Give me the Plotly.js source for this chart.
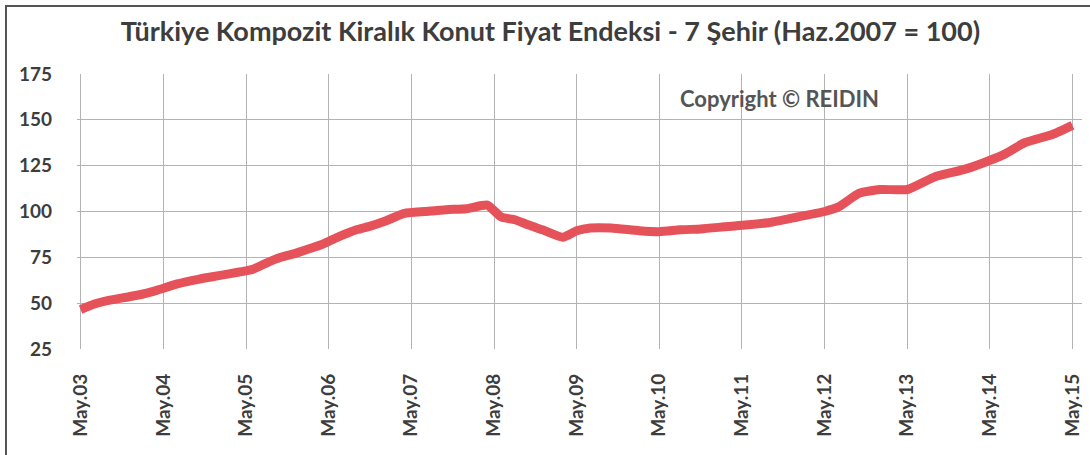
<!DOCTYPE html>
<html>
<head>
<meta charset="utf-8">
<script src="https://cdn.plot.ly/plotly-3.0.1.min.js"></script>
<style>
  html, body { margin: 0; padding: 0; background: #fff; }
  #wrap { position: absolute; left: 0; top: 0; width: 1090px; height: 455px; }
  #frame { position: absolute; left: 5px; top: 5px; width: 1085px; height: 450px;
           border-left: 2px solid #555; border-top: 2px solid #555; box-sizing: border-box; pointer-events: none; }
  #chart { position: absolute; left: 0; top: 0; width: 1090px; height: 455px; }
</style>
</head>
<body>
<div id="wrap">
  <div id="chart"></div>
  <div id="frame"></div>
</div>
<script>
const titleText = "Türkiye Kompozit Kiralık Konut Fiyat Endeksi - 7 Şehir (Haz.2007 = 100)";
const copyrightText = "Copyright © REIDIN";

const dates = [
  "2003-05-01","2003-07-01","2003-09-01","2003-12-01","2004-02-01","2004-04-01","2004-07-01","2004-10-01",
  "2005-01-01","2005-04-01","2005-06-01","2005-08-01","2005-10-01","2005-12-01","2006-02-01","2006-04-01",
  "2006-06-01","2006-09-01","2006-11-01","2007-01-01","2007-04-01","2007-07-01","2007-10-01","2008-01-01",
  "2008-04-01","2008-06-01","2008-08-01","2008-10-01","2008-12-01","2009-03-01","2009-05-01","2009-07-01",
  "2009-10-01","2010-02-01","2010-05-01","2010-08-01","2010-11-01","2011-02-01","2011-05-01","2011-09-01",
  "2012-01-01","2012-05-01","2012-07-01","2012-10-01","2013-01-01","2013-05-01","2013-09-01","2014-01-01",
  "2014-04-01","2014-07-01","2014-10-01","2015-02-01","2015-05-01"
];
const index = [
  46.5, 49.5, 51.5, 53.5, 55.0, 57.0, 60.5, 63.0,
  65.0, 67.0, 68.5, 72.0, 75.0, 77.0, 79.5, 82.0,
  85.5, 90.0, 92.0, 94.5, 99.0, 100.0, 101.0, 101.5,
  103.5, 97.0, 95.5, 92.6, 90.0, 86.0, 89.5, 91.0,
  91.0, 89.5, 89.0, 90.0, 90.5, 91.5, 92.5, 94.0,
  97.0, 100.0, 102.5, 110.0, 112.0, 112.0, 119.0, 122.7,
  126.5, 131.0, 137.5, 142.0, 147.0
];
const tickDates = ["2003-05-01","2004-05-01","2005-05-01","2006-05-01","2007-05-01","2008-05-01","2009-05-01",
  "2010-05-01","2011-05-01","2012-05-01","2013-05-01","2014-05-01","2015-05-01"];
const tickLabels = ["May.03","May.04","May.05","May.06","May.07","May.08","May.09",
  "May.10","May.11","May.12","May.13","May.14","May.15"];
const yTicks = [25, 50, 75, 100, 125, 150, 175];

const font = "Lato, 'Open Sans', 'DejaVu Sans', sans-serif";

Plotly.newPlot("chart", [{
  x: dates, y: index, type: "scatter", mode: "lines",
  line: { color: "#e5525a", width: 9, shape: "spline", smoothing: 0.5 },
  hoverinfo: "skip"
}], {
  width: 1090, height: 455,
  margin: { l: 77, r: 8, t: 74, b: 106 },
  paper_bgcolor: "#fff", plot_bgcolor: "#fff",
  showlegend: false,
  title: { text: "<b>" + titleText + "</b>", x: 0.505, xanchor: "center", y: 0.93, yanchor: "middle",
           font: { family: font, size: 27, color: "#3d3d3d" } },
  xaxis: {
    type: "date", range: ["2003-04-15", "2015-06-12"],
    tickvals: tickDates, ticktext: tickLabels.map(t => "<b>" + t + "</b>"),
    tickangle: -90, ticks: "", showgrid: true, gridcolor: "#b3b3b3", gridwidth: 1,
    zeroline: false, showline: false,
    tickfont: { family: font, size: 19, color: "#3d3d3d" }, ticklabelstandoff: 20
  },
  yaxis: {
    range: [25, 175], tickvals: yTicks, ticktext: yTicks.map(v => "<b>" + v + "</b>"),
    showgrid: true, gridcolor: "#b3b3b3", gridwidth: 1, zeroline: false, showline: false,
    tickfont: { family: font, size: 19, color: "#3d3d3d" }, ticks: "", ticklabelstandoff: 24
  },
  annotations: [{
    text: "<b>" + copyrightText + "</b>", xref: "paper", yref: "paper",
    x: 0.598, y: 0.91, xanchor: "left", yanchor: "middle", showarrow: false,
    font: { family: font, size: 22, color: "#555" }
  }]
}, { displayModeBar: false, staticPlot: true });
</script>
</body>
</html>
